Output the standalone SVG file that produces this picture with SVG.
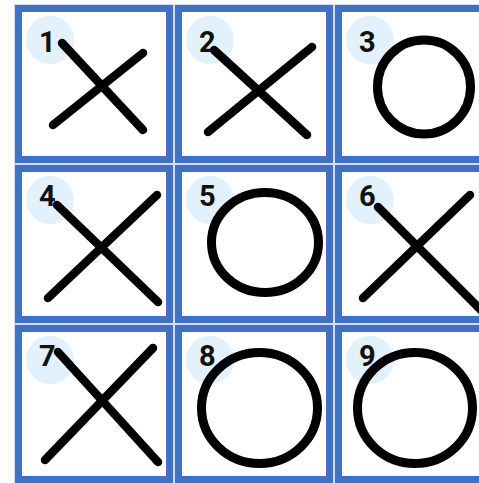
<svg xmlns="http://www.w3.org/2000/svg" width="479" height="483" viewBox="0 0 479 483">
<style>
.cell{fill:#ffffff;stroke:#4270c4;stroke-width:7}
.badge{fill:#e3f1fc}
.num{font-family:Roboto,"Liberation Sans",sans-serif;font-weight:700;font-size:29px;fill:#111111}
.x{stroke:#000;stroke-width:8.5;stroke-linecap:round;fill:none}
.o{stroke:#000;stroke-width:9;fill:none}
</style>
<rect x="0" y="0" width="479" height="483" fill="#ffffff"/>
<rect x="14" y="4" width="470" height="482" fill="#d3ddf1"/>
<g id="cell1"><rect class="cell" x="18.5" y="8.5" width="151" height="151"/><circle class="badge" cx="50" cy="40" r="24"/><text class="num" x="39" y="52">1</text><line class="x" x1="62" y1="43" x2="143" y2="130"/><line class="x" x1="143" y1="53" x2="53" y2="125"/></g>
<g id="cell2"><rect class="cell" x="178.5" y="8.5" width="151" height="151"/><circle class="badge" cx="210" cy="40" r="24"/><text class="num" x="199" y="52">2</text><line class="x" x1="214" y1="50" x2="307" y2="135"/><line class="x" x1="312" y1="47" x2="208" y2="132"/></g>
<g id="cell3"><rect class="cell" x="338.5" y="8.5" width="151" height="151"/><circle class="badge" cx="370" cy="40" r="24"/><text class="num" x="359" y="52">3</text><ellipse class="o" cx="424" cy="87" rx="46.5" ry="47"/></g>
<g id="cell4"><rect class="cell" x="18.5" y="168.5" width="151" height="151"/><circle class="badge" cx="50" cy="200" r="24"/><text class="num" x="39" y="206">4</text><line class="x" x1="57" y1="205" x2="158" y2="302"/><line class="x" x1="157" y1="195" x2="48" y2="298"/></g>
<g id="cell5"><rect class="cell" x="178.5" y="168.5" width="151" height="151"/><circle class="badge" cx="210" cy="200" r="24"/><text class="num" x="199" y="206">5</text><ellipse class="o" cx="265" cy="242.5" rx="53.5" ry="50"/></g>
<g id="cell6"><rect class="cell" x="338.5" y="168.5" width="151" height="151"/><circle class="badge" cx="370" cy="200" r="24"/><text class="num" x="359" y="206">6</text><line class="x" x1="378" y1="207" x2="484" y2="313"/><line class="x" x1="470" y1="195" x2="363" y2="298"/></g>
<g id="cell7"><rect class="cell" x="18.5" y="328.5" width="151" height="151"/><circle class="badge" cx="50" cy="360" r="24"/><text class="num" x="39" y="366">7</text><line class="x" x1="58" y1="352" x2="158" y2="462"/><line class="x" x1="153" y1="348" x2="45" y2="460"/></g>
<g id="cell8"><rect class="cell" x="178.5" y="328.5" width="151" height="151"/><circle class="badge" cx="210" cy="360" r="24"/><text class="num" x="199" y="366">8</text><ellipse class="o" cx="259.5" cy="408" rx="58" ry="55.5"/></g>
<g id="cell9"><rect class="cell" x="338.5" y="328.5" width="151" height="151"/><circle class="badge" cx="370" cy="360" r="24"/><text class="num" x="359" y="366">9</text><ellipse class="o" cx="415" cy="408" rx="57.5" ry="55.5"/></g>
<g id="connectors"></g>
</svg>
